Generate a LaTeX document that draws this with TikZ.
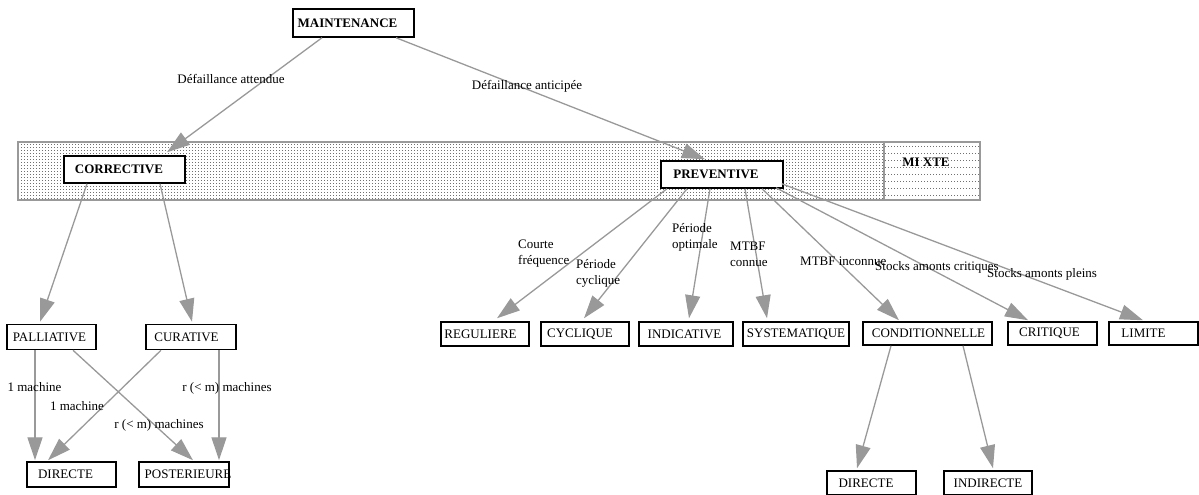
\documentclass[tikz,border=0pt]{standalone}
\usepackage{fontspec}
\setmainfont{Liberation Serif}
\usetikzlibrary{arrows.meta,patterns.meta}
\definecolor{edgegray}{HTML}{999999}
\definecolor{dotgray}{HTML}{707070}
\tikzdeclarepattern{name=densedots,type=uncolored,bounding box={(0pt,0pt) and (3pt,3.3pt)},tile size={(3pt,3.3pt)},code={\fill (0pt,0pt) rectangle (1.1pt,1pt);}}
\tikzdeclarepattern{name=sparsedots,type=uncolored,bounding box={(0pt,0pt) and (3pt,6.5pt)},tile size={(3pt,6.5pt)},code={\fill (0pt,0pt) rectangle (1.1pt,1pt);}}
\newcommand\txtshift[2]{\makebox[0pt]{\kern#1\relax#2\kern-#1\relax}}
\begin{document}
\begin{tikzpicture}[x=1pt,y=-1pt,
  box/.style={draw=black, line width=1.5pt, fill=white, inner sep=0pt, minimum height=24pt, font=\fontsize{13}{16}\selectfont},
  bbox/.style={box, font=\fontsize{13}{16}\selectfont\bfseries},
  bandst/.style={draw=edgegray, line width=1.8pt, inner sep=0pt, pattern color=dotgray},
  edge/.style={draw=edgegray, line width=1.3pt, -{Triangle[length=23pt,width=15pt]}},
  lab/.style={font=\fontsize{13}{16}\selectfont, inner sep=0pt, align=left}]
\useasboundingbox (0,0) rectangle (1199,495);
% band
\node[bandst, pattern=densedots, minimum width=866pt, minimum height=58pt] (band) at (451,171) {};
\node[bandst, pattern=sparsedots, minimum width=96pt, minimum height=58pt,
  label={[font=\fontsize{13}{16}\selectfont\bfseries, xshift=-6pt, yshift=9pt]center:MI XTE}] (mixte) at (932,171) {};
% nodes
\node[bbox, minimum width=121pt, minimum height=28pt] (maint) at (353.5,23) {\txtshift{-6pt}{MAINTENANCE}};
\node[bbox, minimum width=121pt, minimum height=27pt] (corr) at (124.5,169.5) {\txtshift{-5.5pt}{CORRECTIVE}};
\node[bbox, minimum width=122pt, minimum height=27pt] (prev) at (722,174.5) {\txtshift{-6pt}{PREVENTIVE}};
\node[box, minimum width=89pt, minimum height=25pt] (pall) at (51.5,337) {\txtshift{-2pt}{PALLIATIVE}};
\node[box, minimum width=90pt, minimum height=25pt] (cur) at (191,337) {\txtshift{-4.5pt}{CURATIVE}};
\node[box, minimum width=89pt, minimum height=25pt] (dira) at (71.5,474.5) {\txtshift{-6pt}{DIRECTE}};
\node[box, minimum width=90pt, minimum height=25pt] (post) at (184,474.5) {\txtshift{4pt}{POSTERIEURE}};
\node[box, minimum width=88pt] (reg) at (485,334) {\txtshift{-4.5pt}{REGULIERE}};
\node[box, minimum width=88pt] (cyc) at (585,334) {\txtshift{-5pt}{CYCLIQUE}};
\node[box, minimum width=94pt] (ind) at (686,334) {\txtshift{-1.5pt}{INDICATIVE}};
\node[box, minimum width=106pt] (sys) at (796,334) {\txtshift{0pt}{SYSTEMATIQUE}};
\node[box, minimum width=129pt, minimum height=23pt] (cond) at (927.5,333.5) {\txtshift{1pt}{CONDITIONNELLE}};
\node[box, minimum width=89pt, minimum height=23pt] (crit) at (1052.5,333.5) {\txtshift{-3pt}{\raisebox{1.5pt}{CRITIQUE}}};
\node[box, minimum width=89pt, minimum height=23pt] (lim) at (1153.5,333.5) {\txtshift{-10pt}{LIMITE}};
\node[box, minimum width=89pt] (dirb) at (871.5,483) {\txtshift{-5.5pt}{DIRECTE}};
\node[box, minimum width=88pt] (indir) at (988,483) {\txtshift{0pt}{INDIRECTE}};
% edges
\draw[edge] ([xshift=-31.5pt]maint.south) -- ([xshift=42.5pt,yshift=3pt]corr.north);
\draw[edge] ([xshift=42.5pt]maint.south) -- ([xshift=-17pt,yshift=1pt]prev.north);
\draw[edge] ([xshift=-37.5pt]corr.south) -- ([xshift=-11.5pt,yshift=2pt]pall.north);
\draw[edge] ([xshift=35.5pt]corr.south) -- ([xshift=1pt,yshift=2pt]cur.north);
\draw[edge] ([xshift=-16.5pt]pall.south) -- ([xshift=-36.5pt,yshift=1pt]dira.north);
\draw[edge] ([xshift=21.5pt]pall.south) -- ([xshift=9pt,yshift=1pt]post.north);
\draw[edge] ([xshift=-30pt]cur.south) -- ([xshift=-23.5pt,yshift=1pt]dira.north);
\draw[edge] ([xshift=28pt]cur.south) -- ([xshift=35pt,yshift=1pt]post.north);
\draw[edge] ([xshift=-55pt]prev.south) -- ([xshift=12pt,yshift=3pt]reg.north);
\draw[edge] ([xshift=-35pt]prev.south) -- ([xshift=-1pt,yshift=3pt]cyc.north);
\draw[edge] ([xshift=-12pt]prev.south) -- ([xshift=3pt,yshift=3pt]ind.north);
\draw[edge] ([xshift=23pt]prev.south) -- ([xshift=-29pt,yshift=3pt]sys.north);
\draw[edge] ([xshift=40pt]prev.south) -- ([xshift=-28.5pt,yshift=1pt]cond.north);
\draw[edge] ([xshift=54pt,yshift=1pt]prev.south) -- ([xshift=-24.5pt,yshift=1pt]crit.north);
\draw[edge] ([xshift=-2pt,yshift=5pt]prev.south east) -- ([xshift=-10.5pt,yshift=1pt]lim.north);
\draw[edge] ([xshift=-36.5pt]cond.south) -- ([xshift=-14.5pt,yshift=2pt]dirb.north);
\draw[edge] ([xshift=35.5pt]cond.south) -- ([xshift=5pt,yshift=2pt]indir.north);
% labels
\node[lab] (l1) at (231,79) {Défaillance attendue};
\node[lab] (l2) at (527,86) {Défaillance anticipée};
\node[lab] (l3) at (34.5,387) {1 machine};
\node[lab] (l4) at (77,406) {1 machine};
\node[lab] (l5) at (159,425) {r (< m) machines};
\node[lab] (l6) at (227,388) {r (< m) machines};
\node[lab, anchor=west] (l7) at (518,254) {Courte\\ fréquence};
\node[lab, anchor=west] (l8) at (576,273) {Période\\cyclique};
\node[lab, anchor=west] (l9) at (672,237) {Période\\optimale};
\node[lab, anchor=west] (l10) at (730,254) {MTBF\\connue};
\node[lab, anchor=west] (l11) at (800,261) {MTBF inconnue};
\node[lab, anchor=west] (l12) at (875,267) {Stocks amonts critiques};
\node[lab, anchor=west] (l13) at (987,274) {Stocks amonts pleins};
\end{tikzpicture}
\end{document}
